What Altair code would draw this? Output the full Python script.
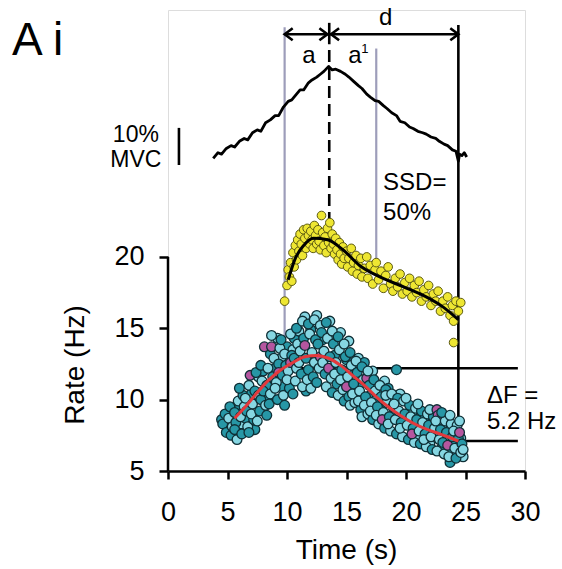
import altair as alt
import pandas as pd

# ---------------- data ----------------
FORCE_T = [3.8, 4.2, 4.5, 4.9, 5.3, 5.6, 6.0, 6.4, 6.7, 7.1, 7.5, 7.8, 8.2, 8.6, 9.0, 9.3,
           9.7, 10.1, 10.4, 10.8, 11.1, 11.4, 11.8, 12.1, 12.5, 12.8, 13.1, 13.5, 13.8, 14.1,
           14.5, 14.9, 15.2, 15.6, 16.0, 16.3, 16.7, 17.0, 17.4, 17.7, 18.1, 18.4, 18.8, 19.2,
           19.5, 19.9, 20.3, 20.6, 21.0, 21.4, 21.7, 22.1, 22.5, 22.8, 23.2, 23.5, 23.9, 24.2,
           24.4, 24.5, 24.7, 24.9, 25.1]
FORCE_R = [26.9, 27.3, 27.2, 27.6, 27.8, 27.7, 28.1, 28.3, 28.2, 28.7, 28.9, 28.8, 29.4, 29.6,
           29.9, 29.9, 30.5, 30.9, 31.0, 31.4, 31.7, 31.7, 32.2, 32.4, 32.6, 32.8, 33.0, 33.35,
           33.1, 33.15, 33.0, 32.8, 32.6, 32.3, 32.0, 31.8, 31.4, 31.2, 30.95, 30.9, 30.6, 30.4,
           30.1, 29.9, 29.5, 29.4, 29.1, 29.0, 28.8, 28.7, 28.6, 28.4, 28.3, 28.1, 27.9, 27.8,
           27.5, 27.4, 26.7, 27.2, 27.1, 27.3, 27.0]

YELLOW = [(9.8, 16.9), (10.0, 18.0), (10.1, 19.1), (10.2, 18.6), (10.3, 19.6), (10.4, 18.3),
          (10.5, 20.3), (10.6, 19.3), (10.7, 20.8), (10.8, 19.8), (10.9, 21.2), (11.0, 20.4),
          (11.1, 21.6), (11.2, 20.9), (11.3, 20.1), (11.4, 21.9), (11.5, 21.3), (11.6, 20.6),
          (11.7, 22.0), (11.8, 21.5), (11.9, 20.9), (12.0, 21.8), (12.1, 21.2), (12.2, 20.6),
          (12.3, 22.2), (12.4, 21.5), (12.5, 20.9), (12.6, 21.9), (12.7, 21.1), (12.9, 22.9),
          (12.8, 20.5), (13.0, 21.7), (13.1, 20.8), (13.2, 21.4), (13.3, 20.3), (13.4, 22.0),
          (13.6, 22.4), (13.5, 21.0), (13.7, 20.6), (13.8, 21.6), (13.9, 20.9), (14.0, 20.2),
          (14.1, 21.3), (14.2, 20.5), (14.3, 19.8), (14.4, 21.0), (14.5, 20.2), (14.6, 19.5),
          (14.7, 20.7), (14.8, 19.9), (15.0, 20.4), (15.1, 19.3), (15.2, 19.9), (15.4, 20.6),
          (15.5, 19.0), (15.6, 19.6), (15.8, 20.1), (15.9, 18.8), (16.0, 19.4), (16.2, 19.9),
          (16.3, 18.6), (16.5, 19.2), (16.7, 20.0), (16.8, 18.5), (17.0, 19.4), (17.2, 18.1),
          (17.4, 19.1), (17.5, 19.6), (17.7, 18.4), (17.9, 19.0), (18.1, 17.8), (18.3, 18.7),
          (18.5, 19.3), (18.7, 18.1), (18.9, 17.6), (19.1, 18.5), (19.3, 17.9), (19.5, 18.8),
          (19.7, 17.4), (19.9, 18.2), (20.1, 17.6), (20.3, 18.5), (20.5, 17.2), (20.7, 18.0),
          (20.9, 17.5), (21.1, 18.3), (21.3, 16.9), (21.5, 17.7), (21.7, 17.2), (21.9, 18.0),
          (22.1, 16.6), (22.3, 17.4), (22.5, 16.9), (22.7, 17.6), (22.9, 16.2), (23.1, 16.9),
          (23.3, 16.4), (23.5, 17.2), (23.7, 15.9), (23.9, 16.6), (24.0, 15.5), (24.2, 16.9),
          (24.4, 16.2), (24.6, 16.8), (24.0, 14.0)]

YELLOW_FIT_T = [10.1, 10.7, 11.4, 12.2, 13.4, 14.7, 16.1, 17.8, 19.8, 21.7, 23.1, 24.4]
YELLOW_FIT_R = [18.4, 19.9, 20.8, 21.3, 21.2, 20.5, 19.4, 18.6, 17.9, 17.2, 16.5, 15.6]

# lower unit: (time, rate, group)  L = light cyan, D = dark teal, M = magenta
LOWER = [
    (4.6, 8.3, "D"), (4.8, 9.0, "D"), (4.9, 7.7, "D"),
    (5.1, 8.7, "L"), (5.3, 7.5, "D"), (5.2, 9.5, "D"), (5.4, 8.1, "L"),
    (5.6, 9.1, "D"), (5.8, 7.2, "L"), (5.7, 8.4, "D"), (5.9, 9.9, "L"), (5.6, 7.9, "D"),
    (6.1, 8.8, "L"), (6.3, 10.3, "D"), (6.2, 7.6, "D"), (6.4, 9.5, "L"), (6.0, 10.8, "D"),
    (6.6, 9.2, "D"), (6.8, 11.0, "L"), (6.7, 8.1, "L"), (6.9, 11.7, "M"), (6.5, 10.1, "L"), (6.8, 7.7, "D"),
    (7.1, 9.7, "L"), (7.3, 10.6, "D"), (7.2, 8.6, "D"), (7.4, 11.9, "D"), (7.0, 9.0, "L"),
    (7.6, 10.3, "L"), (7.8, 12.4, "D"), (7.7, 9.2, "D"), (7.9, 11.3, "L"), (7.5, 8.5, "L"), (7.8, 10.0, "D"),
    (8.1, 13.7, "M"), (8.3, 11.0, "D"), (8.2, 9.6, "L"), (8.4, 12.2, "L"), (8.0, 10.6, "D"), (8.3, 8.9, "D"),
    (8.7, 13.7, "M"), (8.6, 10.4, "L"), (8.8, 11.6, "D"), (8.9, 12.9, "L"), (8.5, 9.7, "D"), (8.7, 14.5, "L"),
    (9.1, 11.2, "L"), (9.3, 12.5, "D"), (9.2, 10.0, "D"), (9.4, 13.6, "L"), (9.0, 10.8, "L"), (9.3, 11.9, "M"),
    (9.6, 11.7, "D"), (9.8, 13.2, "L"), (9.7, 10.3, "L"), (9.9, 12.4, "D"), (9.5, 14.2, "D"), (9.8, 9.6, "D"),
    (10.1, 12.0, "L"), (10.3, 14.6, "L"), (10.2, 10.8, "D"), (10.4, 13.1, "D"), (10.0, 11.4, "L"), (10.3, 12.6, "M"),
    (10.6, 12.9, "D"), (10.8, 15.0, "D"), (10.7, 11.3, "L"), (10.9, 13.9, "L"), (10.5, 10.4, "D"), (10.8, 12.2, "L"),
    (11.1, 13.4, "L"), (11.3, 15.5, "L"), (11.2, 11.8, "D"), (11.4, 14.3, "D"), (11.0, 12.6, "L"), (11.3, 10.9, "L"),
    (11.6, 12.9, "D"), (11.8, 15.3, "D"), (11.7, 11.4, "L"), (11.9, 14.6, "L"), (11.5, 13.8, "M"), (11.8, 12.1, "D"),
    (12.1, 13.3, "L"), (12.3, 15.6, "L"), (12.2, 11.6, "D"), (12.4, 14.2, "D"), (12.0, 10.8, "L"), (12.3, 12.6, "L"),
    (12.6, 13.9, "D"), (12.8, 15.2, "L"), (12.7, 12.2, "L"), (12.9, 14.7, "D"), (12.5, 11.2, "D"), (12.8, 13.0, "M"),
    (13.1, 13.4, "L"), (13.3, 15.4, "D"), (13.2, 11.8, "D"), (13.4, 14.3, "L"), (13.0, 12.6, "L"), (13.3, 10.9, "L"),
    (13.6, 13.0, "D"), (13.8, 14.8, "L"), (13.7, 11.5, "L"), (13.9, 13.9, "D"), (13.5, 12.2, "M"), (13.8, 10.5, "D"),
    (14.1, 12.6, "L"), (14.3, 14.4, "D"), (14.2, 11.1, "D"), (14.4, 13.5, "L"), (14.0, 11.8, "L"), (14.3, 10.3, "L"),
    (14.6, 12.1, "D"), (14.8, 13.9, "L"), (14.7, 10.7, "L"), (14.9, 13.0, "D"), (14.5, 11.4, "L"), (14.8, 9.9, "D"),
    (15.1, 11.6, "L"), (15.3, 13.3, "D"), (15.2, 10.2, "D"), (15.4, 12.4, "L"), (15.0, 10.9, "M"), (15.3, 9.6, "L"),
    (15.6, 11.1, "D"), (15.8, 12.7, "L"), (15.7, 9.8, "L"), (15.9, 11.9, "D"), (15.5, 10.4, "L"),
    (16.1, 10.6, "L"), (16.3, 12.3, "D"), (16.2, 9.3, "D"), (16.4, 11.4, "L"), (16.0, 9.9, "L"), (16.3, 8.8, "L"),
    (16.6, 10.2, "D"), (16.7, 11.5, "M"), (16.8, 9.0, "L"), (16.9, 11.0, "D"), (16.5, 9.6, "L"), (16.8, 12.0, "L"),
    (17.1, 9.8, "L"), (17.3, 11.4, "D"), (17.2, 8.6, "D"), (17.4, 10.6, "L"), (17.0, 9.2, "L"),
    (17.6, 9.5, "D"), (17.8, 11.0, "L"), (17.7, 8.3, "L"), (17.9, 10.2, "D"), (17.5, 8.9, "L"),
    (18.1, 9.1, "L"), (18.3, 10.7, "D"), (18.2, 8.0, "D"), (18.4, 9.8, "L"), (18.0, 8.6, "M"), (18.3, 10.3, "L"),
    (18.6, 8.8, "D"), (18.8, 10.4, "L"), (18.7, 7.8, "L"), (18.9, 9.5, "D"), (18.5, 8.3, "L"),
    (19.2, 12.1, "D"), (19.1, 8.6, "L"), (19.3, 10.1, "D"), (19.2, 7.6, "D"), (19.4, 9.2, "L"), (19.0, 9.7, "L"),
    (19.6, 8.4, "D"), (19.8, 9.9, "L"), (19.7, 7.4, "L"), (19.9, 9.0, "D"), (19.5, 8.0, "L"),
    (20.1, 8.2, "L"), (20.3, 9.6, "D"), (20.2, 7.2, "D"), (20.4, 8.8, "L"), (20.0, 10.1, "L"),
    (20.6, 8.0, "D"), (20.8, 9.4, "L"), (20.7, 7.0, "L"), (20.9, 8.6, "D"), (20.5, 7.6, "M"),
    (21.1, 7.8, "L"), (21.3, 9.2, "D"), (21.2, 6.9, "D"), (21.4, 8.4, "L"), (21.0, 9.7, "L"),
    (21.6, 7.6, "D"), (21.8, 9.0, "L"), (21.7, 6.7, "L"), (21.9, 8.2, "D"), (21.5, 7.2, "L"),
    (22.1, 7.4, "L"), (22.3, 8.8, "D"), (22.2, 6.5, "D"), (22.4, 8.0, "L"), (22.0, 9.3, "L"),
    (22.6, 9.3, "M"), (22.7, 8.9, "M"), (22.8, 7.2, "L"), (22.6, 6.4, "L"), (22.9, 7.9, "D"), (22.5, 8.5, "L"),
    (23.1, 7.0, "D"), (23.3, 8.5, "L"), (23.2, 6.2, "L"), (23.4, 7.7, "D"), (23.0, 9.1, "D"),
    (23.5, 6.8, "M"), (23.7, 5.6, "D"), (23.8, 8.3, "L"), (23.6, 6.0, "L"), (23.9, 7.4, "D"), (23.7, 8.9, "L"),
    (24.1, 6.6, "L"), (24.3, 8.2, "L"), (24.2, 5.9, "D"), (24.4, 7.3, "D"), (24.0, 7.8, "L"),
    (24.5, 7.7, "M"), (24.6, 6.3, "L"), (24.7, 6.9, "D"), (24.5, 8.5, "L"), (24.8, 6.5, "L"),
]

# further points of the same unit that fill out the dense band
LOWER_EXTRA = [
    (4.5, 8.6, "D"), (5.0, 8.2, "D"), (5.5, 8.8, "L"), (6.0, 9.6, "D"), (6.2, 8.3, "L"),
    (6.5, 8.7, "D"), (7.0, 10.4, "D"), (7.3, 7.9, "D"), (7.6, 11.6, "L"), (8.0, 12.0, "D"),
    (8.4, 10.2, "D"), (8.6, 13.2, "D"), (9.0, 12.2, "D"), (9.2, 14.3, "L"), (9.5, 12.9, "L"),
    (9.6, 10.9, "D"), (10.0, 13.7, "D"), (10.5, 13.5, "L"), (10.6, 14.3, "D"), (11.0, 14.8, "L"),
    (11.5, 15.8, "L"), (11.6, 10.6, "D"), (12.0, 14.9, "D"), (12.5, 15.9, "L"), (12.6, 12.6, "D"),
    (13.0, 14.2, "D"), (13.4, 12.2, "D"), (13.6, 15.5, "L"), (14.0, 13.1, "D"), (14.4, 12.0, "D"),
    (14.5, 14.7, "L"), (15.0, 12.8, "D"), (15.2, 14.1, "L"), (15.5, 11.7, "D"), (16.0, 12.9, "L"),
    (16.0, 10.9, "D"), (16.5, 12.6, "D"), (17.0, 10.3, "D"), (17.2, 12.0, "L"), (17.5, 10.0, "D"),
    (18.0, 9.6, "D"), (18.2, 11.3, "L"), (18.5, 10.8, "D"), (19.0, 9.0, "D"), (19.5, 10.4, "L"),
    (19.8, 8.8, "D"), (20.0, 8.4, "D"), (20.5, 9.0, "L"), (21.0, 8.0, "D"), (21.0, 7.3, "L"),
    (21.5, 8.7, "D"), (22.0, 7.7, "D"), (22.0, 6.9, "L"), (22.5, 7.5, "D"), (23.0, 8.2, "L"),
    (23.0, 6.6, "D"), (23.5, 7.3, "L"), (24.0, 6.2, "L"), (24.2, 7.0, "D"), (24.6, 7.3, "L"),
    (24.8, 6.0, "L"), (23.8, 6.6, "D"),
]

RED_FIT_T = [5.6, 6.5, 7.5, 8.5, 9.5, 10.5, 11.5, 12.5, 13.5, 14.5, 15.5, 16.5, 17.5, 18.5,
             19.5, 20.5, 21.5, 22.5, 23.5, 24.4]
RED_FIT_R = [8.7, 9.5, 10.5, 11.4, 12.1, 12.6, 13.0, 13.1, 12.9, 12.4, 11.7, 11.0, 10.2, 9.5,
             8.9, 8.4, 8.0, 7.7, 7.4, 7.1]

X_TICKS = [0, 5, 10, 15, 20, 25, 30]
Y_TICKS = [5, 10, 15, 20]

# annotation anchors (data units)
T_RECRUIT, T_PEAK, T_GREY2, T_DERECRUIT, T_LINE_END = 9.8, 13.55, 17.5, 24.4, 29.4
R_DF_HIGH, R_DF_LOW = 12.2, 7.1
R_ARROW = 35.6

# ---------------- scales ----------------
XS = alt.Scale(domain=[0, 30], nice=False, zero=False)
YS = alt.Scale(domain=[5, 37.3], nice=False, zero=False)
FONT = "Liberation Sans"

xenc = alt.X("t:Q", scale=XS, axis=alt.Axis(
    values=X_TICKS, title=None, grid=False, labelFontSize=27, labelFont=FONT,
    labelColor="black", tickSize=8, tickWidth=2.5, tickColor="black",
    domainColor="black", domainWidth=2.5, labelPadding=20, labelFlush=False))
yenc = alt.Y("r:Q", scale=YS, axis=alt.Axis(
    values=Y_TICKS, title=None, grid=False, domain=False, labelFontSize=27,
    labelFont=FONT, labelColor="black", tickSize=9, tickWidth=2.5,
    tickColor="black", labelPadding=15))

def segs(rows):
    return pd.DataFrame(rows, columns=["t", "t2", "r", "r2"])

def rule_layer(rows, **kw):
    return alt.Chart(segs(rows)).mark_rule(**kw).encode(
        x=alt.X("t:Q", scale=XS), x2="t2:Q",
        y=alt.Y("r:Q", scale=YS), y2="r2:Q")

grey = rule_layer([[T_RECRUIT, T_RECRUIT, 36.1, 12.64],
                   [T_GREY2, T_GREY2, 34.6, 19.6]],
                  color="#9d9dba", strokeWidth=2.2)
blacks = rule_layer([[T_DERECRUIT, T_DERECRUIT, 36.25, R_DF_LOW],
                     [T_PEAK, T_PEAK, 36.4, 34.9],
                     [T_RECRUIT, T_LINE_END, R_DF_HIGH, R_DF_HIGH],
                     [T_DERECRUIT, T_LINE_END, R_DF_LOW, R_DF_LOW],
                     [T_RECRUIT, T_DERECRUIT, R_ARROW, R_ARROW],
                     [0.92, 0.92, 29.04, 26.44]],
                    color="black", strokeWidth=2.6)
yaxis_line = rule_layer([[0, 0, 5, 20]], color="black", strokeWidth=2.5)
dashed = rule_layer([[T_PEAK, T_PEAK, 34.5, 21.4]],
                    color="black", strokeWidth=2.6, strokeDash=[12, 6])

left_heads = alt.Chart(pd.DataFrame({"t": [T_RECRUIT, T_PEAK + 0.15], "r": [R_ARROW] * 2})).mark_point(
    shape="M1,-0.75L0,0L1,0.75", filled=False, stroke="black", strokeWidth=2.6, size=260, opacity=1
).encode(x=alt.X("t:Q", scale=XS), y=alt.Y("r:Q", scale=YS))
right_heads = alt.Chart(pd.DataFrame({"t": [T_PEAK - 0.15, T_DERECRUIT], "r": [R_ARROW] * 2})).mark_point(
    shape="M-1,-0.75L0,0L-1,0.75", filled=False, stroke="black", strokeWidth=2.6, size=260, opacity=1
).encode(x=alt.X("t:Q", scale=XS), y=alt.Y("r:Q", scale=YS))

force = alt.Chart(pd.DataFrame({"t": FORCE_T, "r": FORCE_R})).mark_line(
    color="black", strokeWidth=2.8, strokeJoin="round"
).encode(x=xenc, y=yenc, order="t:Q")

ydf = pd.DataFrame(YELLOW, columns=["t", "r"])
yellow_pts = alt.Chart(ydf).mark_circle(
    size=75, color="#eee632", stroke="#5c5a12", strokeWidth=1.0, opacity=1
).encode(x=alt.X("t:Q", scale=XS), y=alt.Y("r:Q", scale=YS))
yellow_fit = alt.Chart(pd.DataFrame({"t": YELLOW_FIT_T, "r": YELLOW_FIT_R})).mark_line(
    color="black", strokeWidth=3, interpolate="monotone"
).encode(x=alt.X("t:Q", scale=XS), y=alt.Y("r:Q", scale=YS))

ldf = pd.DataFrame(LOWER_EXTRA + LOWER, columns=["t", "r", "g"])
lower_pts = alt.Chart(ldf).mark_circle(
    size=95, stroke="#0f2f36", strokeWidth=1.3, opacity=1
).encode(
    x=alt.X("t:Q", scale=XS), y=alt.Y("r:Q", scale=YS),
    color=alt.Color("g:N", scale=alt.Scale(domain=["L", "D", "M"],
                                            range=["#86d6e2", "#2797a6", "#b5569f"]), legend=None))
red_fit = alt.Chart(pd.DataFrame({"t": RED_FIT_T, "r": RED_FIT_R})).mark_line(
    color="#e3393c", strokeWidth=3, interpolate="monotone"
).encode(x=alt.X("t:Q", scale=XS), y=alt.Y("r:Q", scale=YS))

def text_layer(rows, **kw):
    df = pd.DataFrame(rows, columns=["t", "r", "s"])
    base = dict(font=FONT, color="black")
    base.update(kw)
    return alt.Chart(df).mark_text(**base).encode(
        x=alt.X("t:Q", scale=XS), y=alt.Y("r:Q", scale=YS), text="s:N")

title_ai = text_layer([[-13.1, 34.15, "A i"]], fontSize=46, align="left", baseline="alphabetic")
mvc = text_layer([[-2.7, 28.06, "10%"], [-2.7, 26.3, "MVC"]], fontSize=23, align="center", baseline="alphabetic")
small_a = text_layer([[11.85, 33.6, "a"], [15.7, 33.6, "a"], [18.3, 36.25, "d"]],
                     fontSize=24, align="center", baseline="alphabetic")
sup1 = text_layer([[16.55, 34.3, "1"]], fontSize=13, align="center", baseline="alphabetic")
ssd = text_layer([[18.07, 24.69, "SSD="], [18.07, 22.59, "50%"],
                  [26.8, 9.77, "ΔF ="], [26.8, 7.94, "5.2 Hz"]],
                 fontSize=24, align="left", baseline="alphabetic")
ytitle = text_layer([[-7.73, 12.43, "Rate (Hz)"]], fontSize=28, align="center",
                    baseline="middle", angle=270)
xtitle = text_layer([[15.0, -1.17, "Time (s)"]], fontSize=28, align="center", baseline="alphabetic")

chart = alt.layer(
    alt.Chart(pd.DataFrame({"t": [0, 30], "r": [5, 5]})).mark_point(opacity=0).encode(x=xenc, y=yenc),
    grey, dashed, blacks, yaxis_line, left_heads, right_heads, force,
    yellow_pts, yellow_fit, lower_pts, red_fit,
    title_ai, mvc, small_a, sup1, ssd, ytitle, xtitle,
).properties(
    width=357, height=461,
    autosize=alt.AutoSizeParams(type="none"),
    padding={"left": 168, "top": 10, "right": 37, "bottom": 98},
).configure_view(stroke=None).configure(background="white")

chart.save("out.html", embed_options={"renderer": "svg", "actions": False})
